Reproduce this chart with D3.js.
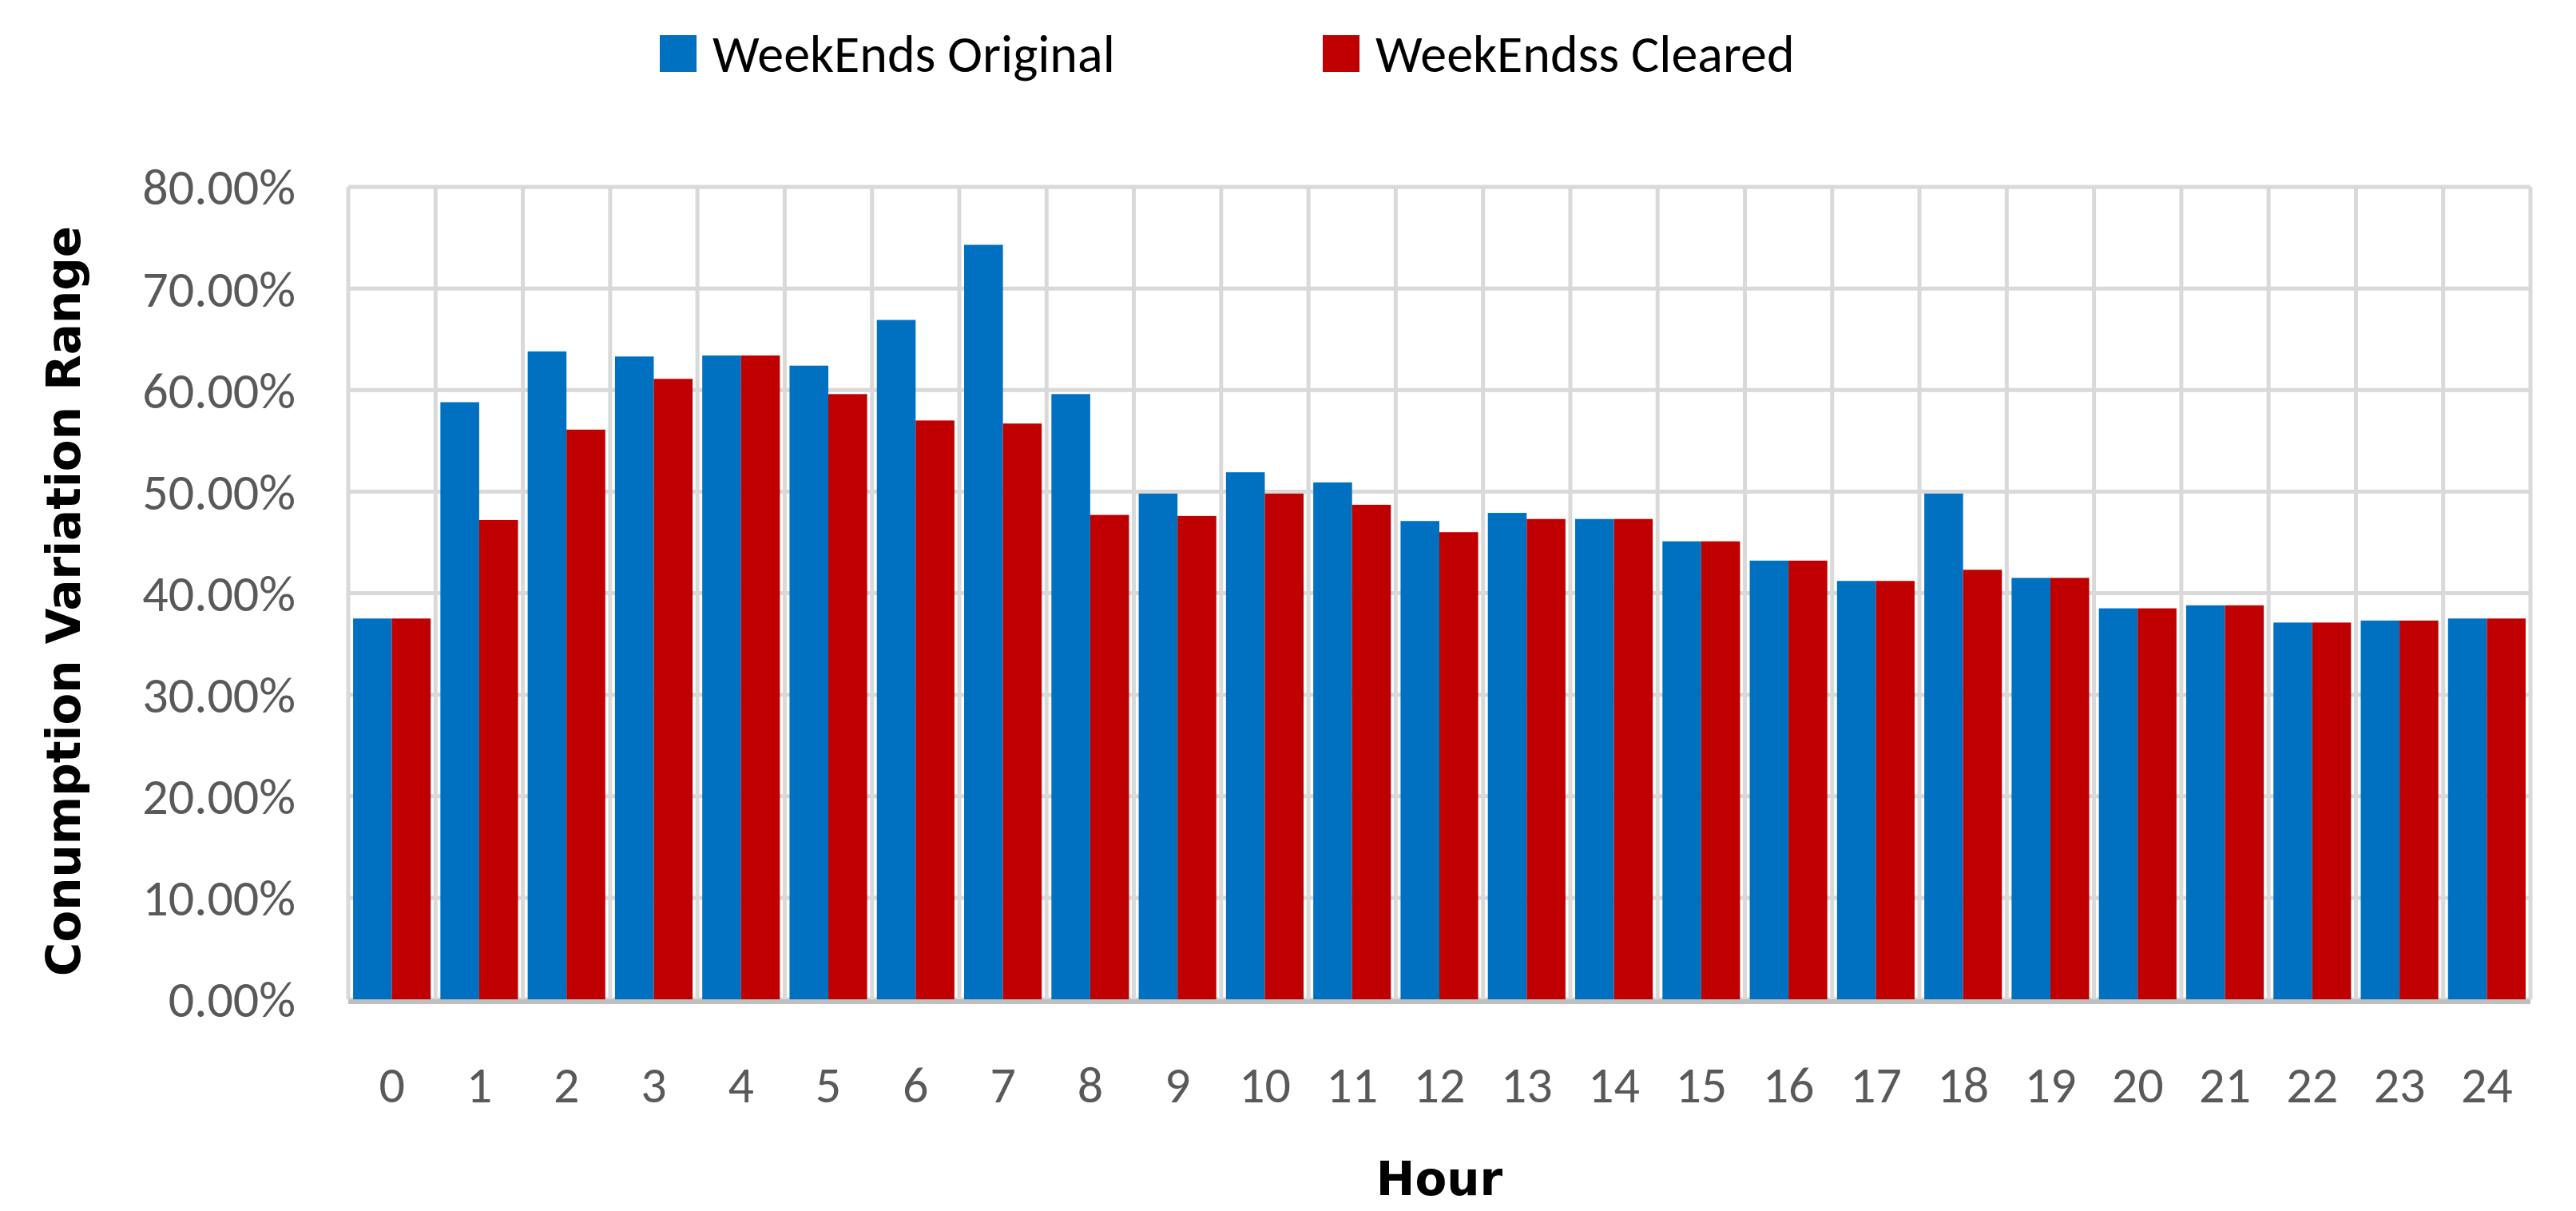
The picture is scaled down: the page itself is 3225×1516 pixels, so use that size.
<!DOCTYPE html>
<html>
<head>
<meta charset="utf-8">
<script src="https://d3js.org/d3.v7.min.js"></script>
<style>
body { margin: 0; background: #fff; }
</style>
</head>
<body>
<div id="chart"></div>
<script>
var hours = ['0', '1', '2', '3', '4', '5', '6', '7', '8', '9', '10', '11', '12', '13', '14', '15', '16', '17', '18', '19', '20', '21', '22', '23', '24'];
var original = [37.5, 58.8, 63.8, 63.3, 63.4, 62.4, 66.9, 74.3, 59.6, 49.8, 51.9, 50.9, 47.1, 47.9, 47.3, 45.1, 43.2, 41.2, 49.8, 41.5, 38.5, 38.8, 37.1, 37.3, 37.5];
var cleared = [37.5, 47.2, 56.1, 61.1, 63.4, 59.6, 57.0, 56.7, 47.7, 47.6, 49.8, 48.7, 46.0, 47.3, 47.3, 45.1, 43.2, 41.2, 42.3, 41.5, 38.5, 38.8, 37.1, 37.3, 37.5];
var seriesNames = ['WeekEnds Original', 'WeekEndss Cleared'];
var seriesColors = ['#0070c0', '#c00000'];
var yTicks = [0, 10, 20, 30, 40, 50, 60, 70, 80];

var width = 3225;
var height = 1516;
var plotLeft = 436, plotRight = 3168, plotTop = 234, plotBottom = 1251;
var labelFont = "Carlito, 'Liberation Sans Narrow', 'Liberation Sans', sans-serif";
var titleFont = "'DejaVu Sans', Verdana, sans-serif";

var svg = d3.select('#chart').append('svg')
    .attr('width', width)
    .attr('height', height);

var x = d3.scaleBand().domain(hours).range([plotLeft, plotRight]).paddingInner(0).paddingOuter(0);
var y = d3.scaleLinear().domain([0, 80]).range([plotBottom, plotTop]);
var sub = d3.scaleBand().domain([0, 1]).range([0, x.bandwidth()]).paddingInner(0).paddingOuter(0.125);

// Grid
svg.append('g').selectAll('line.h')
    .data(yTicks)
    .enter().append('line')
    .attr('x1', plotLeft).attr('x2', plotRight)
    .attr('y1', function (d) { return y(d); })
    .attr('y2', function (d) { return y(d); })
    .attr('stroke', '#d9d9d9').attr('stroke-width', 5);

svg.append('g').selectAll('line.v')
    .data(d3.range(hours.length + 1))
    .enter().append('line')
    .attr('x1', function (i) { return plotLeft + i * x.step(); })
    .attr('x2', function (i) { return plotLeft + i * x.step(); })
    .attr('y1', plotTop).attr('y2', plotBottom)
    .attr('stroke', '#d9d9d9').attr('stroke-width', 5);

// Bars
[original, cleared].forEach(function (values, s) {
    svg.append('g').selectAll('rect')
        .data(values)
        .enter().append('rect')
        .attr('x', function (d, i) { return x(hours[i]) + sub(s); })
        .attr('width', sub.bandwidth())
        .attr('y', function (d) { return y(d); })
        .attr('height', function (d) { return y(0) - y(d); })
        .attr('fill', seriesColors[s]);
});

// Bottom axis line
svg.append('line')
    .attr('x1', plotLeft).attr('x2', plotRight)
    .attr('y1', plotBottom + 3).attr('y2', plotBottom + 3)
    .attr('stroke', '#bfbfbf').attr('stroke-width', 6);

// Y tick labels
svg.append('g').selectAll('text')
    .data(yTicks)
    .enter().append('text')
    .attr('x', 370)
    .attr('y', function (d) { return y(d); })
    .attr('dy', '0.35em')
    .attr('text-anchor', 'end')
    .attr('font-family', labelFont)
    .attr('font-size', 64)
    .attr('fill', '#595959')
    .text(function (d) { return d3.format('.2f')(d) + '%'; });

// X tick labels
svg.append('g').selectAll('text')
    .data(hours)
    .enter().append('text')
    .attr('x', function (d) { return x(d) + x.bandwidth() / 2; })
    .attr('y', 1380)
    .attr('text-anchor', 'middle')
    .attr('font-family', labelFont)
    .attr('font-size', 64)
    .attr('fill', '#595959')
    .text(function (d) { return d; });

// Axis titles
svg.append('text')
    .attr('x', (plotLeft + plotRight) / 2)
    .attr('y', 1496)
    .attr('text-anchor', 'middle')
    .attr('font-family', titleFont)
    .attr('font-weight', 'bold')
    .attr('font-size', 58)
    .text('Hour');

svg.append('text')
    .attr('transform', 'translate(100,' + ((plotTop + plotBottom) / 2 + 10) + ') rotate(-90)')
    .attr('text-anchor', 'middle')
    .attr('font-family', titleFont)
    .attr('font-weight', 'bold')
    .attr('font-size', 58)
    .text('Conumption Variation Range');

// Legend
var legendX = [826, 1656];
seriesNames.forEach(function (name, s) {
    var g = svg.append('g').attr('transform', 'translate(' + legendX[s] + ',44)');
    g.append('rect').attr('width', 46).attr('height', 46).attr('fill', seriesColors[s]);
    g.append('text')
        .attr('x', 66).attr('y', 23).attr('dy', '0.35em')
        .attr('font-family', labelFont)
        .attr('font-size', 66)
        .attr('fill', '#000')
        .text(name);
});
</script>
</body>
</html>
